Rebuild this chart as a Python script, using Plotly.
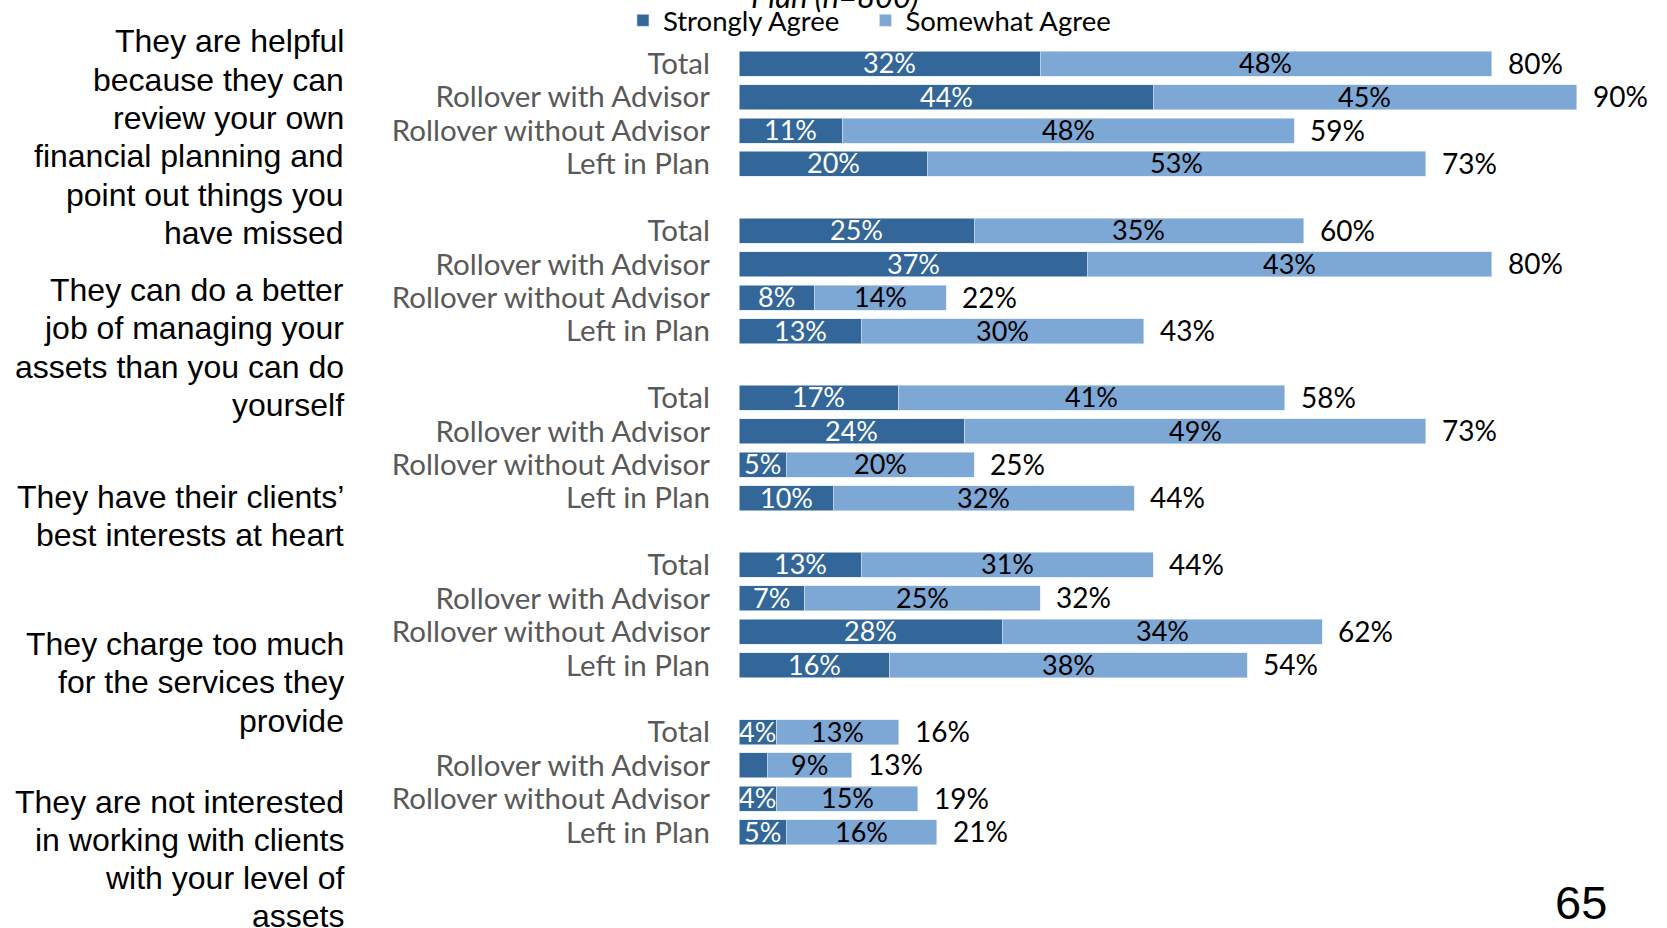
import plotly.graph_objects as go

questions = [
    ["They are helpful", "because they can", "review your own",
     "financial planning and", "point out things you", "have missed"],
    ["They can do a better", "job of managing your", "assets than you can do", "yourself"],
    ["They have their clients’", "best interests at heart"],
    ["They charge too much", "for the services they", "provide"],
    ["They are not interested", "in working with clients", "with your level of", "assets"],
]

segments = ["Total", "Rollover with Advisor", "Rollover without Advisor", "Left in Plan"]

series_names = ["Strongly Agree", "Somewhat Agree"]

strongly = [32, 44, 11, 20,
            25, 37, 8, 13,
            17, 24, 5, 10,
            13, 7, 28, 16,
            4, 3, 4, 5]
somewhat = [48, 45, 48, 53,
            35, 43, 14, 30,
            41, 49, 20, 32,
            31, 25, 34, 38,
            13, 9, 15, 16]
strongly_labels = ["32%", "44%", "11%", "20%",
                   "25%", "37%", "8%", "13%",
                   "17%", "24%", "5%", "10%",
                   "13%", "7%", "28%", "16%",
                   "4%", "", "4%", "5%"]
somewhat_labels = [f"{v}%" for v in somewhat]
total_labels = ["80%", "90%", "59%", "73%",
                "60%", "80%", "22%", "43%",
                "58%", "73%", "25%", "44%",
                "44%", "32%", "62%", "54%",
                "16%", "13%", "19%", "21%"]

DARK = "#336699"
LIGHT = "#7DA7D5"
FONT = "Lato"

# layout geometry (pixels)
W, H = 1667, 928
ML, MR, MT, MB = 739, 34, 47, 79
PLOT_H = H - MT - MB
q_first_line_px = [41.5, 290, 496.5, 644, 801.5]
LINE_PX = 38.3

n_seg = len(segments)
ypos = []
ticktext = []
for g in range(len(questions)):
    for s in range(n_seg):
        ypos.append(g * (n_seg + 1) + s)
        ticktext.append(segments[s])

fig = go.Figure()
fig.add_trace(go.Bar(
    y=ypos, x=strongly, orientation="h",
    name=series_names[0] + "\u00a0\u00a0\u00a0",
    marker=dict(color=DARK, line=dict(color="#DCE6F2", width=0.6)),
    width=0.75,
))
fig.add_trace(go.Bar(
    y=ypos, x=somewhat, orientation="h", name=series_names[1],
    marker=dict(color=LIGHT, line=dict(color="#DCE6F2", width=0.6)),
    width=0.75,
))

annotations = []
for y, a, b, la, lb, t in zip(ypos, strongly, somewhat, strongly_labels,
                              somewhat_labels, total_labels):
    if la:
        annotations.append(dict(
            x=a / 2, y=y, xref="x", yref="y", text=la, showarrow=False,
            xanchor="center", yanchor="middle", yshift=1,
            font=dict(family=FONT, size=27, color="white"),
        ))
    annotations.append(dict(
        x=a + b / 2, y=y, xref="x", yref="y", text=lb, showarrow=False,
        xanchor="center", yanchor="middle", yshift=1,
        font=dict(family=FONT, size=27, color="black"),
    ))
    annotations.append(dict(
        x=a + b, y=y, xref="x", yref="y", text=t, showarrow=False,
        xanchor="left", yanchor="middle", xshift=14, yshift=1,
        font=dict(family=FONT, size=28, color="black"),
    ))

for lines, first_px in zip(questions, q_first_line_px):
    for i, line in enumerate(lines):
        py = first_px + i * LINE_PX
        annotations.append(dict(
            x=(346 - ML) / (W - ML - MR), y=1 - (py - MT) / PLOT_H,
            xref="paper", yref="paper", text=line, showarrow=False,
            xanchor="right", yanchor="middle", align="right",
            font=dict(family="Liberation Sans, Arial", size=32, color="black"),
        ))

annotations.append(dict(
    x=0.107, y=1.063, xref="paper", yref="paper", text="<i>Plan (n=800)</i>",
    showarrow=False, xanchor="center", yanchor="middle",
    font=dict(family=FONT, size=31, color="black"),
))
annotations.append(dict(
    x=0.942, y=-0.0673, xref="paper", yref="paper", text="65",
    showarrow=False, xanchor="center", yanchor="middle",
    font=dict(family="Liberation Sans, Arial", size=47, color="black"),
))

fig.update_layout(
    width=W, height=H,
    margin=dict(l=ML, r=MR, t=MT, b=MB, autoexpand=False),
    barmode="stack",
    plot_bgcolor="white", paper_bgcolor="white",
    font=dict(family=FONT, size=26, color="black"),
    showlegend=True,
    legend=dict(
        orientation="h", xref="container", yref="container",
        x=0.3737, y=0.978, xanchor="left", yanchor="middle",
        font=dict(family=FONT, size=27.5, color="black"),
        bgcolor="rgba(0,0,0,0)", itemclick=False, itemdoubleclick=False,
        traceorder="normal",
    ),
    xaxis=dict(range=[0, 95], visible=False, fixedrange=True),
    yaxis=dict(
        range=[23.5, -0.5], tickmode="array", tickvals=ypos, ticktext=ticktext,
        showgrid=False, zeroline=False, showline=False, ticks="",
        tickfont=dict(family=FONT, size=29.5, color="#595959"),
        ticklabelstandoff=28, fixedrange=True,
    ),
    annotations=annotations,
)

fig.write_html(
    "out.html",
    config={"displayModeBar": False},
    post_script="document.body.style.margin='0';document.body.style.overflow='hidden';",
)
